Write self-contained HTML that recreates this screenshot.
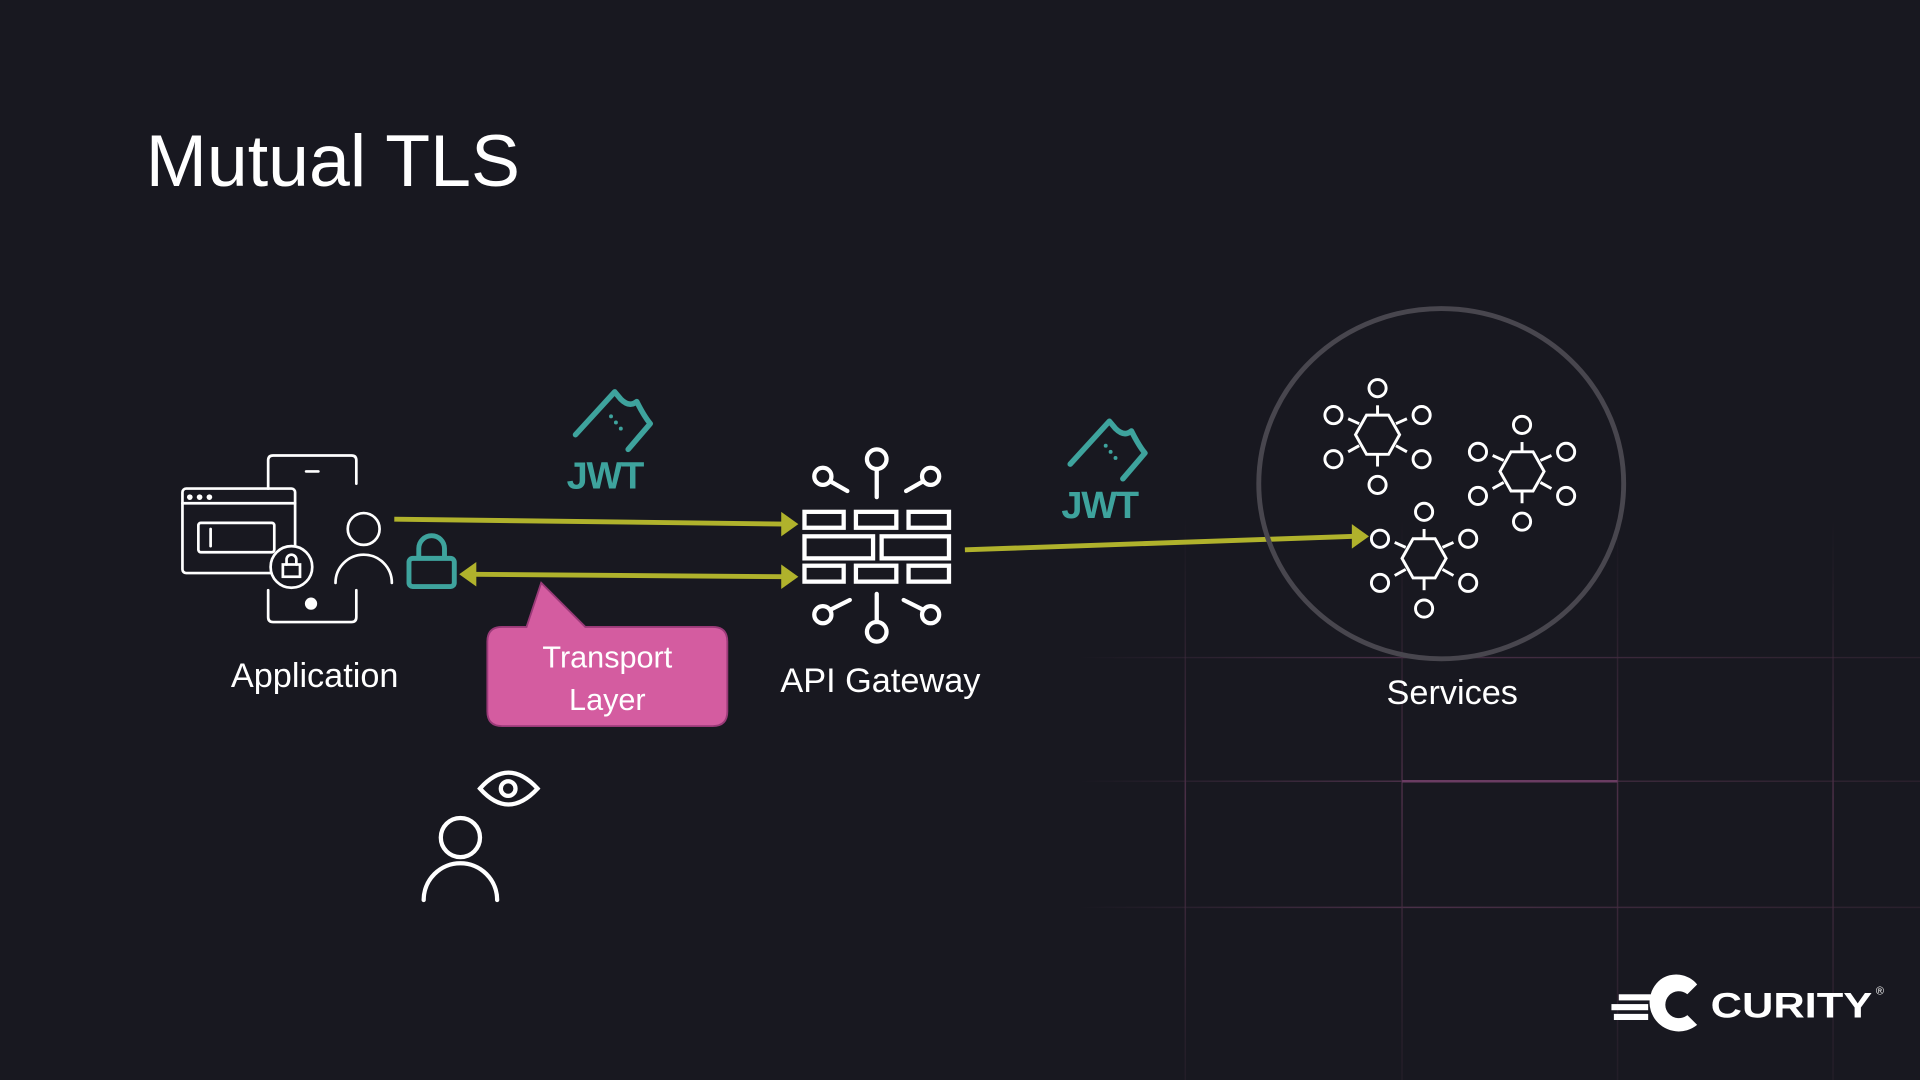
<!DOCTYPE html>
<html><head><meta charset="utf-8"><style>
html,body{margin:0;padding:0;background:#181820;}
svg{display:block}
text{font-family:"Liberation Sans",sans-serif;}
</style></head><body>
<svg width="1920" height="1080" viewBox="0 0 1568 882" xmlns="http://www.w3.org/2000/svg">
<defs>
<linearGradient id="hg" gradientUnits="userSpaceOnUse" x1="880" y1="0" x2="1568" y2="0">
<stop offset="0" stop-color="#4a3048" stop-opacity="0"/><stop offset="0.4" stop-color="#4a3048"/><stop offset="1" stop-color="#3a2838" stop-opacity="0.5"/></linearGradient>
<linearGradient id="vg" gradientUnits="userSpaceOnUse" x1="0" y1="420" x2="0" y2="882">
<stop offset="0" stop-color="#3a2838" stop-opacity="0"/><stop offset="0.5" stop-color="#4a2e46"/><stop offset="1" stop-color="#3a2838" stop-opacity="0.3"/></linearGradient>
</defs>
<rect width="1568" height="882" fill="#181820"/>
<!-- grid -->
<g stroke-width="1.2">
<line x1="880" y1="537" x2="1568" y2="537" stroke="url(#hg)"/>
<line x1="880" y1="638" x2="1568" y2="638" stroke="url(#hg)"/>
<line x1="880" y1="741" x2="1568" y2="741" stroke="url(#hg)"/>
<line x1="968" y1="420" x2="968" y2="882" stroke="url(#vg)"/>
<line x1="1145" y1="420" x2="1145" y2="882" stroke="url(#vg)"/>
<line x1="1321" y1="420" x2="1321" y2="882" stroke="url(#vg)"/>
<line x1="1497" y1="420" x2="1497" y2="882" stroke="url(#vg)"/>
<line x1="1145" y1="638" x2="1321" y2="638" stroke="#6a3c62" stroke-width="2"/>
</g>
<text x="119" y="152" font-size="60" fill="#fff">Mutual TLS</text>

<!-- Application icon -->
<g fill="none" stroke="#fff" stroke-width="2.2" stroke-linecap="round">
<path d="M219 399 V376 q0-4 4-4 H287 q4 0 4 4 V395"/>
<path d="M250 385 H260"/>
<path d="M219 482 V504 q0 4 4 4 H287 q4 0 4-4 V482"/>
<rect x="149" y="399" width="92" height="69" rx="3"/>
<path d="M149 411 H241"/>
<rect x="162" y="427" width="62" height="24" rx="2"/>
<path d="M172 432 V446"/>
<circle cx="238" cy="463" r="17" fill="#181820"/>
<rect x="231" y="461" width="14" height="10"/>
<path d="M234 461 v-4 a4 4 0 0 1 8 0 v4"/>
<circle cx="297" cy="432" r="13"/>
<path d="M274 476 a23 23 0 0 1 46 0"/>
</g>
<g fill="#fff"><circle cx="155" cy="406" r="2.3"/><circle cx="163" cy="406" r="2.3"/><circle cx="171" cy="406" r="2.3"/><circle cx="254" cy="493" r="5"/></g>
<!-- teal lock -->
<g fill="none" stroke="#3ea39d" stroke-width="4">
<rect x="334" y="456" width="37" height="23" rx="3"/>
<path d="M342 456 v-8 a10.5 10.5 0 0 1 21 0 v8"/>
</g>

<!-- arrows -->
<g stroke="#b0b22c" stroke-width="4" fill="#b0b22c">
<line x1="322" y1="424" x2="640" y2="428"/>
<polygon points="652,428 638,418 638,438" stroke="none"/>
<line x1="388" y1="469" x2="640" y2="471"/>
<polygon points="652,471 638,461 638,481" stroke="none"/>
<polygon points="375,469 389,459 389,479" stroke="none"/>
<line x1="788" y1="449" x2="1106" y2="438"/>
<polygon points="1118,438 1104,428 1104,448" stroke="none"/>
</g>

<!-- JWT icons -->
<g id="jwt1">
<path d="M470 355 L502 320 L507 326 Q514 333 520 328 Q526 340 531 346 L513 367" fill="none" stroke="#3ea39d" stroke-width="4.5" stroke-linecap="round" stroke-linejoin="round"/>
<g fill="#3ea39d"><circle cx="499" cy="340" r="1.6"/><circle cx="503" cy="345" r="1.6"/><circle cx="507" cy="350" r="1.6"/></g>
<text x="494" y="399" font-size="31" font-weight="bold" fill="#3ea39d" text-anchor="middle" letter-spacing="-1">JWT</text>
</g>
<use href="#jwt1" x="404" y="24"/>

<!-- Callout -->
<path d="M410 512 H430 L442 476 L478 512 H582 q12 0 12 12 V581 q0 12-12 12 H410 q-12 0-12-12 V524 q0-12 12-12 Z" fill="#d45ca0" stroke="#9a3a78" stroke-width="1.5"/>
<text x="496" y="545" font-size="25" fill="#fff" text-anchor="middle">Transport</text>
<text x="496" y="580" font-size="25" fill="#fff" text-anchor="middle">Layer</text>

<!-- Gateway -->
<g fill="none" stroke="#fff" stroke-width="3.5" stroke-linecap="round">
<rect x="657" y="418" width="32" height="13"/><rect x="699" y="418" width="33" height="13"/><rect x="742" y="418" width="33" height="13"/>
<rect x="657" y="438" width="56" height="18"/><rect x="720" y="438" width="55" height="18"/>
<rect x="657" y="462" width="32" height="13"/><rect x="699" y="462" width="33" height="13"/><rect x="742" y="462" width="33" height="13"/>
<circle cx="716" cy="375" r="8"/><line x1="716" y1="383" x2="716" y2="406"/>
<circle cx="672" cy="389" r="7"/><line x1="678" y1="393" x2="692" y2="401"/>
<circle cx="760" cy="389" r="7"/><line x1="754" y1="393" x2="740" y2="401"/>
<circle cx="716" cy="516" r="8"/><line x1="716" y1="508" x2="716" y2="485"/>
<circle cx="672" cy="502" r="7"/><line x1="678" y1="498" x2="694" y2="490"/>
<circle cx="760" cy="502" r="7"/><line x1="754" y1="498" x2="738" y2="490"/>
</g>

<!-- Services -->
<ellipse cx="1177" cy="395" rx="149" ry="143" fill="none" stroke="#48464e" stroke-width="4"/>
<g id="hex" fill="none" stroke="#fff" stroke-width="2.4">
<polygon points="1107,355 1116,339 1134,339 1143,355 1134,371 1116,371"/>
<line x1="1125" y1="339" x2="1125" y2="331"/><circle cx="1125" cy="317" r="7"/>
<line x1="1125" y1="371" x2="1125" y2="381"/><circle cx="1125" cy="396" r="7"/>
<line x1="1110" y1="346" x2="1101" y2="342"/><circle cx="1089" cy="339" r="7"/>
<line x1="1140" y1="346" x2="1149" y2="342"/><circle cx="1161" cy="339" r="7"/>
<line x1="1110" y1="364" x2="1101" y2="369"/><circle cx="1089" cy="375" r="7"/>
<line x1="1140" y1="364" x2="1149" y2="369"/><circle cx="1161" cy="375" r="7"/>
</g>
<use href="#hex" x="118" y="30"/>
<use href="#hex" x="38" y="101"/>

<!-- Labels -->
<text x="257" y="561" font-size="28" fill="#fff" text-anchor="middle">Application</text>
<text x="719" y="565" font-size="28" fill="#fff" text-anchor="middle">API Gateway</text>
<text x="1186" y="575" font-size="28" fill="#fff" text-anchor="middle">Services</text>

<!-- Eavesdropper -->
<g fill="none" stroke="#fff" stroke-width="3.5" stroke-linecap="round">
<circle cx="376" cy="684" r="16"/>
<path d="M346 735 a30 30 0 0 1 60 0"/>
<path d="M392 644 Q415 618 439 644 Q415 670 392 644 Z"/>
<circle cx="415" cy="644" r="6"/>
</g>

<!-- Curity logo -->
<g fill="#fff">
<path d="M1356 800 a22 22 0 1 0 30 37 l-8-8 a11 11 0 1 1 0-17 l8-8 a22 22 0 0 0-30-4 Z"/>
<rect x="1322" y="812" width="26" height="5"/>
<rect x="1316" y="820" width="30" height="5"/>
<rect x="1318" y="828" width="28" height="5"/>
<text x="1397" y="831" font-size="29" font-weight="bold" textLength="132" lengthAdjust="spacingAndGlyphs">CURITY</text>
<text x="1532" y="812" font-size="9">®</text>
</g>
</svg>
</body></html>
